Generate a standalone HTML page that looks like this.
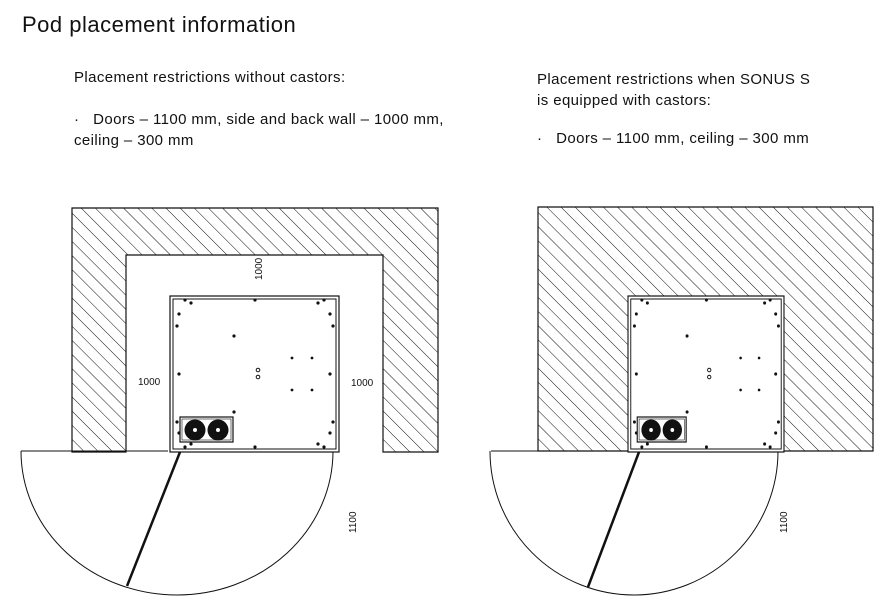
<!DOCTYPE html>
<html><head><meta charset="utf-8"><style>
html,body{margin:0;padding:0;background:#fff;}
body{width:887px;height:616px;overflow:hidden;position:relative;font-family:"Liberation Sans",sans-serif;color:#111;}
.t{position:absolute;white-space:nowrap;}
.b{font-size:15px;letter-spacing:0.4px;}
</style></head><body>
<div class="t" style="left:22px;top:12px;font-size:22px;letter-spacing:0.5px;">Pod placement information</div>
<div class="t b" style="left:74px;top:69px;">Placement restrictions without castors:</div>
<div class="t b" style="left:74px;top:109px;line-height:21px;">·&nbsp;&nbsp; Doors – 1100 mm, side and back wall – 1000 mm,<br>ceiling – 300 mm</div>
<div class="t b" style="left:537px;top:69px;line-height:21px;">Placement restrictions when SONUS S<br>is equipped with castors:</div>
<div class="t b" style="left:537px;top:130px;">·&nbsp;&nbsp; Doors – 1100 mm, ceiling – 300 mm</div>
<svg width="887" height="616" style="position:absolute;left:0;top:0" xmlns="http://www.w3.org/2000/svg">
<defs>
<pattern id="h" patternUnits="userSpaceOnUse" width="10" height="10" patternTransform="rotate(-45)">
<line x1="0" y1="0" x2="0" y2="10" stroke="#111" stroke-width="1"/>
</pattern>
<clipPath id="cb"><rect x="0" y="451" width="887" height="200"/></clipPath>
<g id="pod">
<rect x="0" y="0" width="169" height="156" fill="#fff" stroke="#111" stroke-width="1.2"/>
<rect x="3" y="3" width="163" height="150" fill="none" stroke="#111" stroke-width="1"/>
<g fill="#111">
<circle cx="15" cy="4" r="1.6"/><circle cx="21" cy="7" r="1.6"/><circle cx="85" cy="4" r="1.6"/><circle cx="148" cy="7" r="1.6"/><circle cx="154" cy="4" r="1.6"/>
<circle cx="9" cy="18" r="1.6"/><circle cx="7" cy="30" r="1.6"/><circle cx="160" cy="18" r="1.6"/><circle cx="163" cy="30" r="1.6"/>
<circle cx="64" cy="40" r="1.6"/><circle cx="122" cy="62" r="1.4"/><circle cx="142" cy="62" r="1.4"/>
<circle cx="9" cy="78" r="1.6"/><circle cx="160" cy="78" r="1.6"/>
<circle cx="122" cy="94" r="1.4"/><circle cx="142" cy="94" r="1.4"/>
<circle cx="64" cy="116" r="1.6"/><circle cx="163" cy="126" r="1.6"/><circle cx="160" cy="137" r="1.6"/>
<circle cx="7" cy="126" r="1.6"/><circle cx="9" cy="137" r="1.6"/>
<circle cx="15" cy="151" r="1.6"/><circle cx="21" cy="148" r="1.6"/><circle cx="85" cy="151" r="1.6"/><circle cx="148" cy="148" r="1.6"/><circle cx="154" cy="151" r="1.6"/>
</g>
<circle cx="88" cy="74" r="1.8" fill="none" stroke="#111"/><circle cx="88" cy="81" r="1.8" fill="none" stroke="#111"/>
<rect x="10" y="121" width="53" height="25" fill="#fff" stroke="#111" stroke-width="1.2"/>
<rect x="12" y="123" width="49" height="21" fill="none" stroke="#111" stroke-width="0.6"/>
<circle cx="25" cy="134" r="10.5" fill="#111"/><circle cx="48" cy="134" r="10.5" fill="#111"/>
<circle cx="25" cy="134" r="2" fill="#fff"/><circle cx="48" cy="134" r="2" fill="#fff"/>
</g>
</defs>
<path d="M72,208 H438 V452 H383 V255 H126 V452 H72 Z" fill="url(#h)" stroke="#111" stroke-width="1.2"/>
<ellipse cx="177" cy="451" rx="156" ry="144" fill="none" stroke="#111" stroke-width="1" clip-path="url(#cb)"/>
<line x1="21" y1="451" x2="168" y2="451" stroke="#111" stroke-width="1"/>
<use href="#pod" x="170" y="296"/>
<line x1="180" y1="452" x2="127" y2="586" stroke="#111" stroke-width="2.5"/>
<g font-size="10" fill="#111" font-family="Liberation Sans,sans-serif">
<text x="138" y="385">1000</text>
<text x="351" y="386">1000</text>
<text transform="translate(262,280) rotate(-90)">1000</text>
<text transform="translate(356,533) rotate(-90)">1100</text>
</g>
<path d="M538,207 H873 V451 H538 Z" fill="url(#h)" stroke="#111" stroke-width="1.2"/>
<ellipse cx="634" cy="451" rx="144" ry="144" fill="none" stroke="#111" stroke-width="1" clip-path="url(#cb)"/>
<line x1="491" y1="451" x2="628" y2="451" stroke="#111" stroke-width="1"/>
<use href="#pod" transform="translate(628,296) scale(0.923,1)"/>
<line x1="639" y1="452" x2="588" y2="587" stroke="#111" stroke-width="2.5"/>
<text transform="translate(787,533) rotate(-90)" font-size="10" fill="#111" font-family="Liberation Sans,sans-serif">1100</text>
</svg>
</body></html>
